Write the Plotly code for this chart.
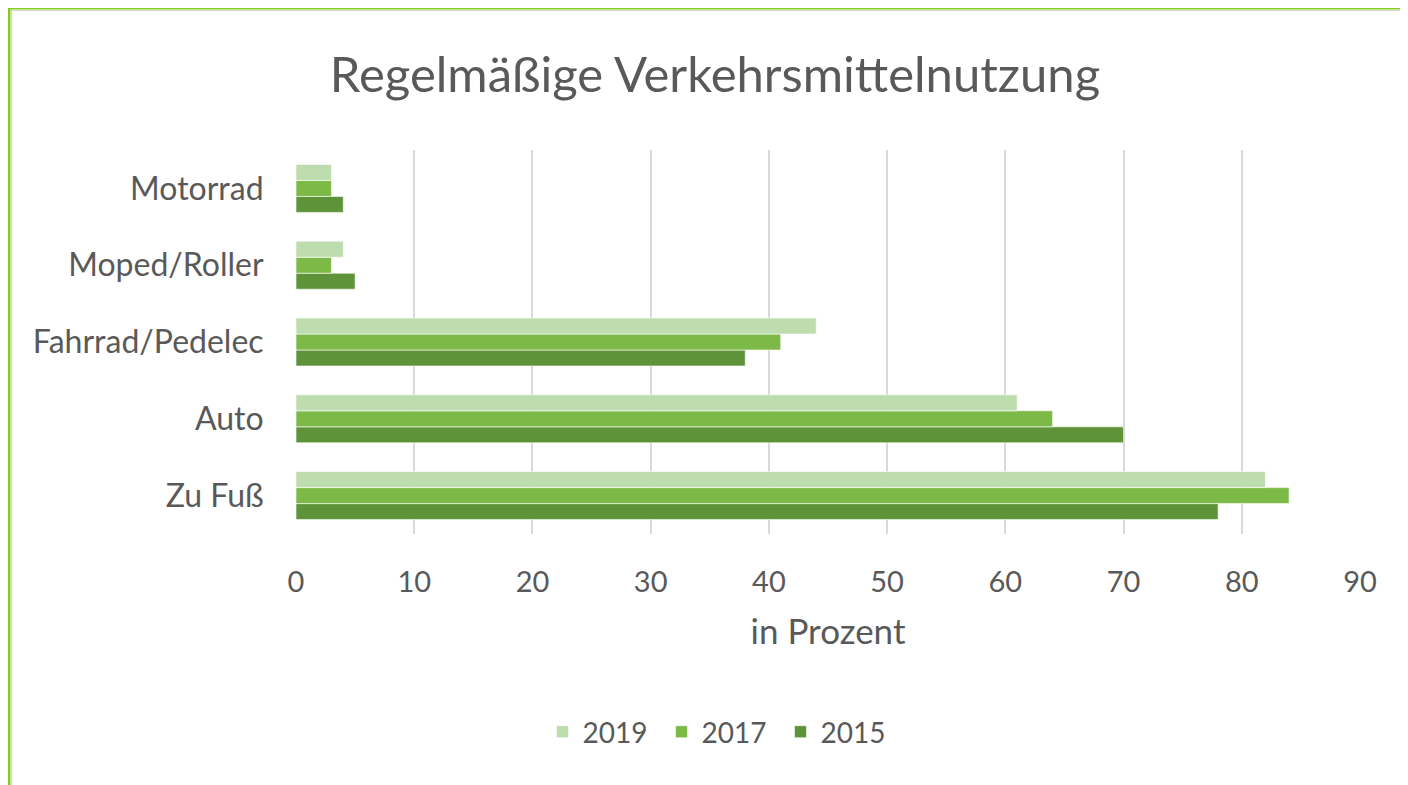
import plotly.graph_objects as go

categories = ["Zu Fuß", "Auto", "Fahrrad/Pedelec", "Moped/Roller", "Motorrad"]
v2015 = [78, 70, 38, 5, 4]
v2017 = [84, 64, 41, 3, 3]
v2019 = [82, 61, 44, 4, 3]
x_ticks = [0, 10, 20, 30, 40, 50, 60, 70, 80, 90]

colors = {"2019": "#BDDDAE", "2017": "#7DB946", "2015": "#5E9339"}
FONT = "Lato"
TXT = "#595959"

OFF = 8  # page body margin
W, H = 1408 - OFF, 785 - OFF
L, R, T, B = 296 - OFF, 48, 150 - OFF, 785 - 534
pw, ph = W - L - R, H - T - B

def px(x):
    return (x - OFF - L) / pw

def py(y):
    return (H - B - (y - OFF)) / ph

fig = go.Figure()
for name, vals in [("2015", v2015), ("2017", v2017), ("2019", v2019)]:
    fig.add_trace(go.Bar(
        y=categories, x=vals, name=name, orientation="h",
        marker=dict(color=colors[name], line=dict(color="rgba(255,255,255,0.6)", width=1)),
    ))

fig.update_layout(
    width=W, height=H,
    margin=dict(l=L, r=R, t=T, b=B),
    paper_bgcolor="white", plot_bgcolor="white",
    barmode="group", bargap=0.375, bargroupgap=0,
    font=dict(family=FONT, color=TXT),
    title=dict(text="Regelmäßige Verkehrsmittelnutzung", xref="container", x=(715 - OFF) / W,
               xanchor="center", yref="container", y=1 - (75 - OFF) / H, yanchor="middle",
               font=dict(size=49, color=TXT, family=FONT)),
    xaxis=dict(range=[0, 90], tickvals=x_ticks, showgrid=True, gridcolor="#D9D9D9", gridwidth=2,
               zeroline=False, showline=False, ticks="outside", ticklen=22, tickcolor="rgba(0,0,0,0)",
               tickfont=dict(size=29, color=TXT),
               title=dict(text="in Prozent", font=dict(size=35, color=TXT), standoff=22)),
    yaxis=dict(categoryorder="array", categoryarray=categories, showgrid=False, zeroline=False,
               ticks="outside", ticklen=25, tickcolor="rgba(0,0,0,0)",
               tickfont=dict(size=32, color=TXT)),
    legend=dict(orientation="h", x=px(721), xanchor="center", y=py(732), yanchor="middle",
                traceorder="reversed", font=dict(size=28, color=TXT), itemwidth=30,
                entrywidth=74),
    shapes=[
        dict(type="line", xref="paper", yref="paper", x0=px(9), x1=px(1420), y0=py(8), y1=py(8),
             line=dict(color="#84CC1E", width=3)),
        dict(type="line", xref="paper", yref="paper", x0=px(9), x1=px(9), y0=py(8), y1=py(800),
             line=dict(color="#84CC1E", width=3)),
        dict(type="line", xref="paper", yref="paper", x0=px(11), x1=px(1420), y0=py(10.5), y1=py(10.5),
             line=dict(color="#D8D8D8", width=1)),
        dict(type="line", xref="paper", yref="paper", x0=px(11.5), x1=px(11.5), y0=py(10), y1=py(800),
             line=dict(color="#D8D8D8", width=1)),
    ],
)

fig.write_html("out.html")
